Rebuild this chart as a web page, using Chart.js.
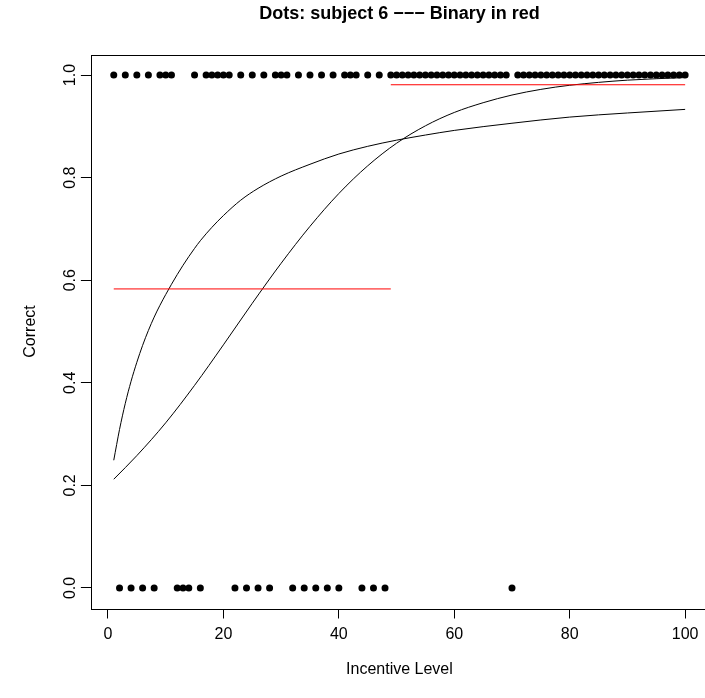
<!DOCTYPE html>
<html>
<head>
<meta charset="utf-8">
<title>Dots: subject 6</title>
<script src="https://cdn.jsdelivr.net/npm/chart.js@4.4.1/dist/chart.umd.min.js"></script>
<style>
    html, body { margin: 0; padding: 0; background: #fff; overflow: hidden; }
    #wrap { width: 712px; height: 698px; }
</style>
</head>
<body>
<div id="wrap"><canvas id="dotsChart" width="712" height="698"></canvas></div>
<script>
// Incentive level of every trial
const levels = [
    1, 2, 3, 4, 5, 6, 7, 8, 9, 10,
    11, 12, 13, 14, 15, 16, 17, 18, 19, 20,
    21, 22, 23, 24, 25, 26, 27, 28, 29, 30,
    31, 32, 33, 34, 35, 36, 37, 38, 39, 40,
    41, 42, 43, 44, 45, 46, 47, 48, 49, 50,
    51, 52, 53, 54, 55, 56, 57, 58, 59, 60,
    61, 62, 63, 64, 65, 66, 67, 68, 69, 70,
    71, 72, 73, 74, 75, 76, 77, 78, 79, 80,
    81, 82, 83, 84, 85, 86, 87, 88, 89, 90,
    91, 92, 93, 94, 95, 96, 97, 98, 99, 100
];

// 1 = correct, 0 = wrong
const correct = [
    1, 0, 1, 0, 1, 0, 1, 0, 1, 1,
    1, 0, 0, 0, 1, 0, 1, 1, 1, 1,
    1, 0, 1, 0, 1, 0, 1, 0, 1, 1,
    1, 0, 1, 0, 1, 0, 1, 0, 1, 0,
    1, 1, 1, 0, 1, 0, 1, 0, 1, 1,
    1, 1, 1, 1, 1, 1, 1, 1, 1, 1,
    1, 1, 1, 1, 1, 1, 1, 1, 1, 0,
    1, 1, 1, 1, 1, 1, 1, 1, 1, 1,
    1, 1, 1, 1, 1, 1, 1, 1, 1, 1,
    1, 1, 1, 1, 1, 1, 1, 1, 1, 1
];

// Binary model (red): one level below the split, one above
const stepEdges = [1, 49, 100];
const stepValues = [0.583, 0.981];

// Fitted curve with the fast early rise
const fastX = [1, 2, 3, 4, 5, 6, 7, 8, 9, 10, 11, 12, 13, 14, 15, 16, 18, 20, 23, 26,
    30, 35, 40, 45, 50, 55, 60, 70, 80, 90, 100];
const fastY = [0.249, 0.309, 0.360, 0.403, 0.440, 0.473, 0.502, 0.528, 0.551, 0.572,
    0.592, 0.611, 0.629, 0.646, 0.662, 0.677, 0.703, 0.726, 0.756, 0.779,
    0.803, 0.826, 0.846, 0.861, 0.873, 0.883, 0.892, 0.906, 0.918, 0.926, 0.933];

// Fitted logistic curve
const logisticX = [1, 5, 10, 15, 20, 25, 30, 35, 40, 45, 50, 55, 60, 65, 70, 75, 80, 90, 100];
const logisticY = [0.212, 0.258, 0.322, 0.395, 0.474, 0.555, 0.633, 0.705, 0.769, 0.823,
    0.867, 0.901, 0.927, 0.946, 0.961, 0.972, 0.980, 0.990, 0.995];

const xTicks = [0, 20, 40, 60, 80, 100];
const yTicks = [0, 0.2, 0.4, 0.6, 0.8, 1.0];

const TITLE = 'Dots: subject 6 \u2212\u2212\u2212 Binary in red';
const FONT = '"Liberation Sans", Arial, Helvetica, sans-serif';

function toPoints(xs, ys) {
    return xs.map((x, i) => ({ x: x, y: ys[i] }));
}

// Box around the plot and the main title
const frameAndTitle = {
    id: 'frameAndTitle',
    afterDraw: function(chart) {
        const ctx = chart.ctx;
        const a = chart.chartArea;
        ctx.save();
        ctx.strokeStyle = '#000';
        ctx.lineWidth = 1;
        ctx.strokeRect(Math.round(a.left) + 0.5, Math.round(a.top) + 0.5,
            Math.round(a.right - a.left), Math.round(a.bottom - a.top));
        ctx.fillStyle = '#000';
        ctx.font = 'bold 18px ' + FONT;
        ctx.textAlign = 'center';
        ctx.textBaseline = 'middle';
        ctx.fillText(TITLE, (a.left + a.right) / 2, 14);
        ctx.restore();
    }
};

const ctx = document.getElementById('dotsChart').getContext('2d');
new Chart(ctx, {
    type: 'scatter',
    data: {
        datasets: [
            {
                label: 'binary low',
                data: toPoints([stepEdges[0], stepEdges[1]], [stepValues[0], stepValues[0]]),
                showLine: true,
                borderColor: '#ff0000',
                borderWidth: 1,
                pointRadius: 0
            },
            {
                label: 'binary high',
                data: toPoints([stepEdges[1], stepEdges[2]], [stepValues[1], stepValues[1]]),
                showLine: true,
                borderColor: '#ff0000',
                borderWidth: 1,
                pointRadius: 0
            },
            {
                label: 'fast',
                data: toPoints(fastX, fastY),
                showLine: true,
                cubicInterpolationMode: 'monotone',
                borderColor: '#000',
                borderWidth: 1,
                pointRadius: 0
            },
            {
                label: 'logistic',
                data: toPoints(logisticX, logisticY),
                showLine: true,
                cubicInterpolationMode: 'monotone',
                borderColor: '#000',
                borderWidth: 1,
                pointRadius: 0
            },
            {
                label: 'trials',
                data: toPoints(levels, correct),
                backgroundColor: '#000',
                borderWidth: 0,
                pointRadius: 3.5
            }
        ]
    },
    options: {
        responsive: false,
        animation: false,
        events: [],
        layout: { padding: { top: 54.5, right: 2.4, left: 0, bottom: 0 } },
        plugins: {
            legend: { display: false },
            tooltip: { enabled: false }
        },
        scales: {
            x: {
                type: 'linear',
                min: -2.96,
                max: 103.96,
                afterBuildTicks: function(scale) {
                    scale.ticks = xTicks.map(v => ({ value: v }));
                },
                afterFit: function(scale) {
                    scale.height = 89.5;
                },
                border: { display: false },
                grid: { drawOnChartArea: false, drawTicks: true, tickLength: 10, color: '#000' },
                ticks: {
                    color: '#000',
                    padding: 6,
                    maxRotation: 0,
                    font: { family: FONT, size: 16 },
                    callback: v => String(v)
                },
                title: {
                    display: true,
                    text: 'Incentive Level',
                    color: '#000',
                    font: { family: FONT, size: 16 },
                    padding: { top: 0, bottom: 19 }
                }
            },
            y: {
                type: 'linear',
                min: -0.04,
                max: 1.04,
                afterBuildTicks: function(scale) {
                    scale.ticks = yTicks.map(v => ({ value: v }));
                },
                afterFit: function(scale) {
                    scale.width = 90.9;
                },
                border: { display: false },
                grid: { drawOnChartArea: false, drawTicks: true, tickLength: 10, color: '#000' },
                ticks: {
                    color: '#000',
                    padding: -1,
                    minRotation: 90,
                    maxRotation: 90,
                    crossAlign: 'center',
                    font: { family: FONT, size: 16 },
                    callback: v => v.toFixed(1)
                },
                title: {
                    display: true,
                    text: 'Correct',
                    color: '#000',
                    font: { family: FONT, size: 16 },
                    padding: { top: 21, bottom: 0 }
                }
            }
        }
    },
    plugins: [frameAndTitle]
});
</script>
</body>
</html>
